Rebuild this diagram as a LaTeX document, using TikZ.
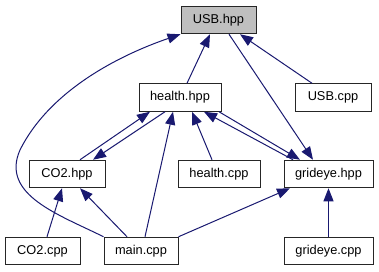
\documentclass[tikz,border=0pt]{standalone}
\usepackage{fontspec}
\setmainfont{Liberation Sans}
\usetikzlibrary{arrows.meta}
\definecolor{incl}{HTML}{191970}
\definecolor{rootgray}{HTML}{BFBFBF}

\begin{document}
\begin{tikzpicture}[x=1pt,y=-1pt,
    file/.style={draw=black!85, line width=1pt, fill=white, inner sep=0pt,
      minimum height=27.5pt, font=\fontsize{12.8}{15}\selectfont},
    root/.style={file, fill=rootgray},
    dep/.style={draw=incl, line width=1pt, -{Triangle[length=13pt,width=10pt]}}]
	\useasboundingbox (0,0) rectangle (379,272);

            % files
            \node[root, minimum width=75pt] (usbh) at (218.5,20) {USB.hpp};
            \node[file, minimum width=82pt] (healthh) at (180,97.5) {health.hpp};
            \node[file, minimum width=76pt] (usbc) at (333,97.5) {USB.cpp};
            \node[file, minimum width=76pt] (co2h) at (67,174) {CO2.hpp};
            \node[file, minimum width=82pt] (healthc) at (219,174) {health.cpp};
            \node[file, minimum width=89pt] (gridh) at (328.5,174) {grideye.hpp};
            \node[file, minimum width=75pt] (co2c) at (42.5,251) {CO2.cpp};
            \node[file, minimum width=74pt] (mainc) at (141,251) {main.cpp};
            \node[file, minimum width=89pt] (gridc) at (328.5,251) {grideye.cpp};

            % includes
            \draw[dep] ([xshift=7]healthh.north) -- ([xshift=-8.5]usbh.south);
            \draw[dep] ([xshift=-21]usbc.north) -- ([xshift=21.5]usbh.south);
            \draw[dep] ([xshift=10.5]usbh.south) -- ([xshift=-15.5]gridh.north);
            \draw[dep] (mainc.north west) .. controls (60,215) and (0,195) .. (20,150)
                 .. controls (50,90) and (120,55) .. (usbh.south west);

            \draw[dep] ([xshift=13]co2h.north) -- ([xshift=-30]healthh.south);
            \draw[dep] ([xshift=-15]healthh.south) -- ([xshift=26]co2h.north);
            \draw[dep] ([xshift=4]mainc.north) -- ([xshift=-7]healthh.south);
            \draw[dep] ([xshift=-7]healthc.north) -- ([xshift=12]healthh.south);
            \draw[dep] ([xshift=-35.5]gridh.north) -- ([xshift=24]healthh.south);
            \draw[dep] ([xshift=39]healthh.south) -- ([xshift=-28.5]gridh.north);

            \draw[dep] ([xshift=4.5]co2c.north) -- ([xshift=-5]co2h.south);
            \draw[dep] ([xshift=-14]mainc.north) -- ([xshift=13]co2h.south);
            \draw[dep] (mainc.north east) -- ([xshift=-38.5]gridh.south);
            \draw[dep] (gridc.north) -- (gridh.south);
        \end{tikzpicture}
\end{document}
